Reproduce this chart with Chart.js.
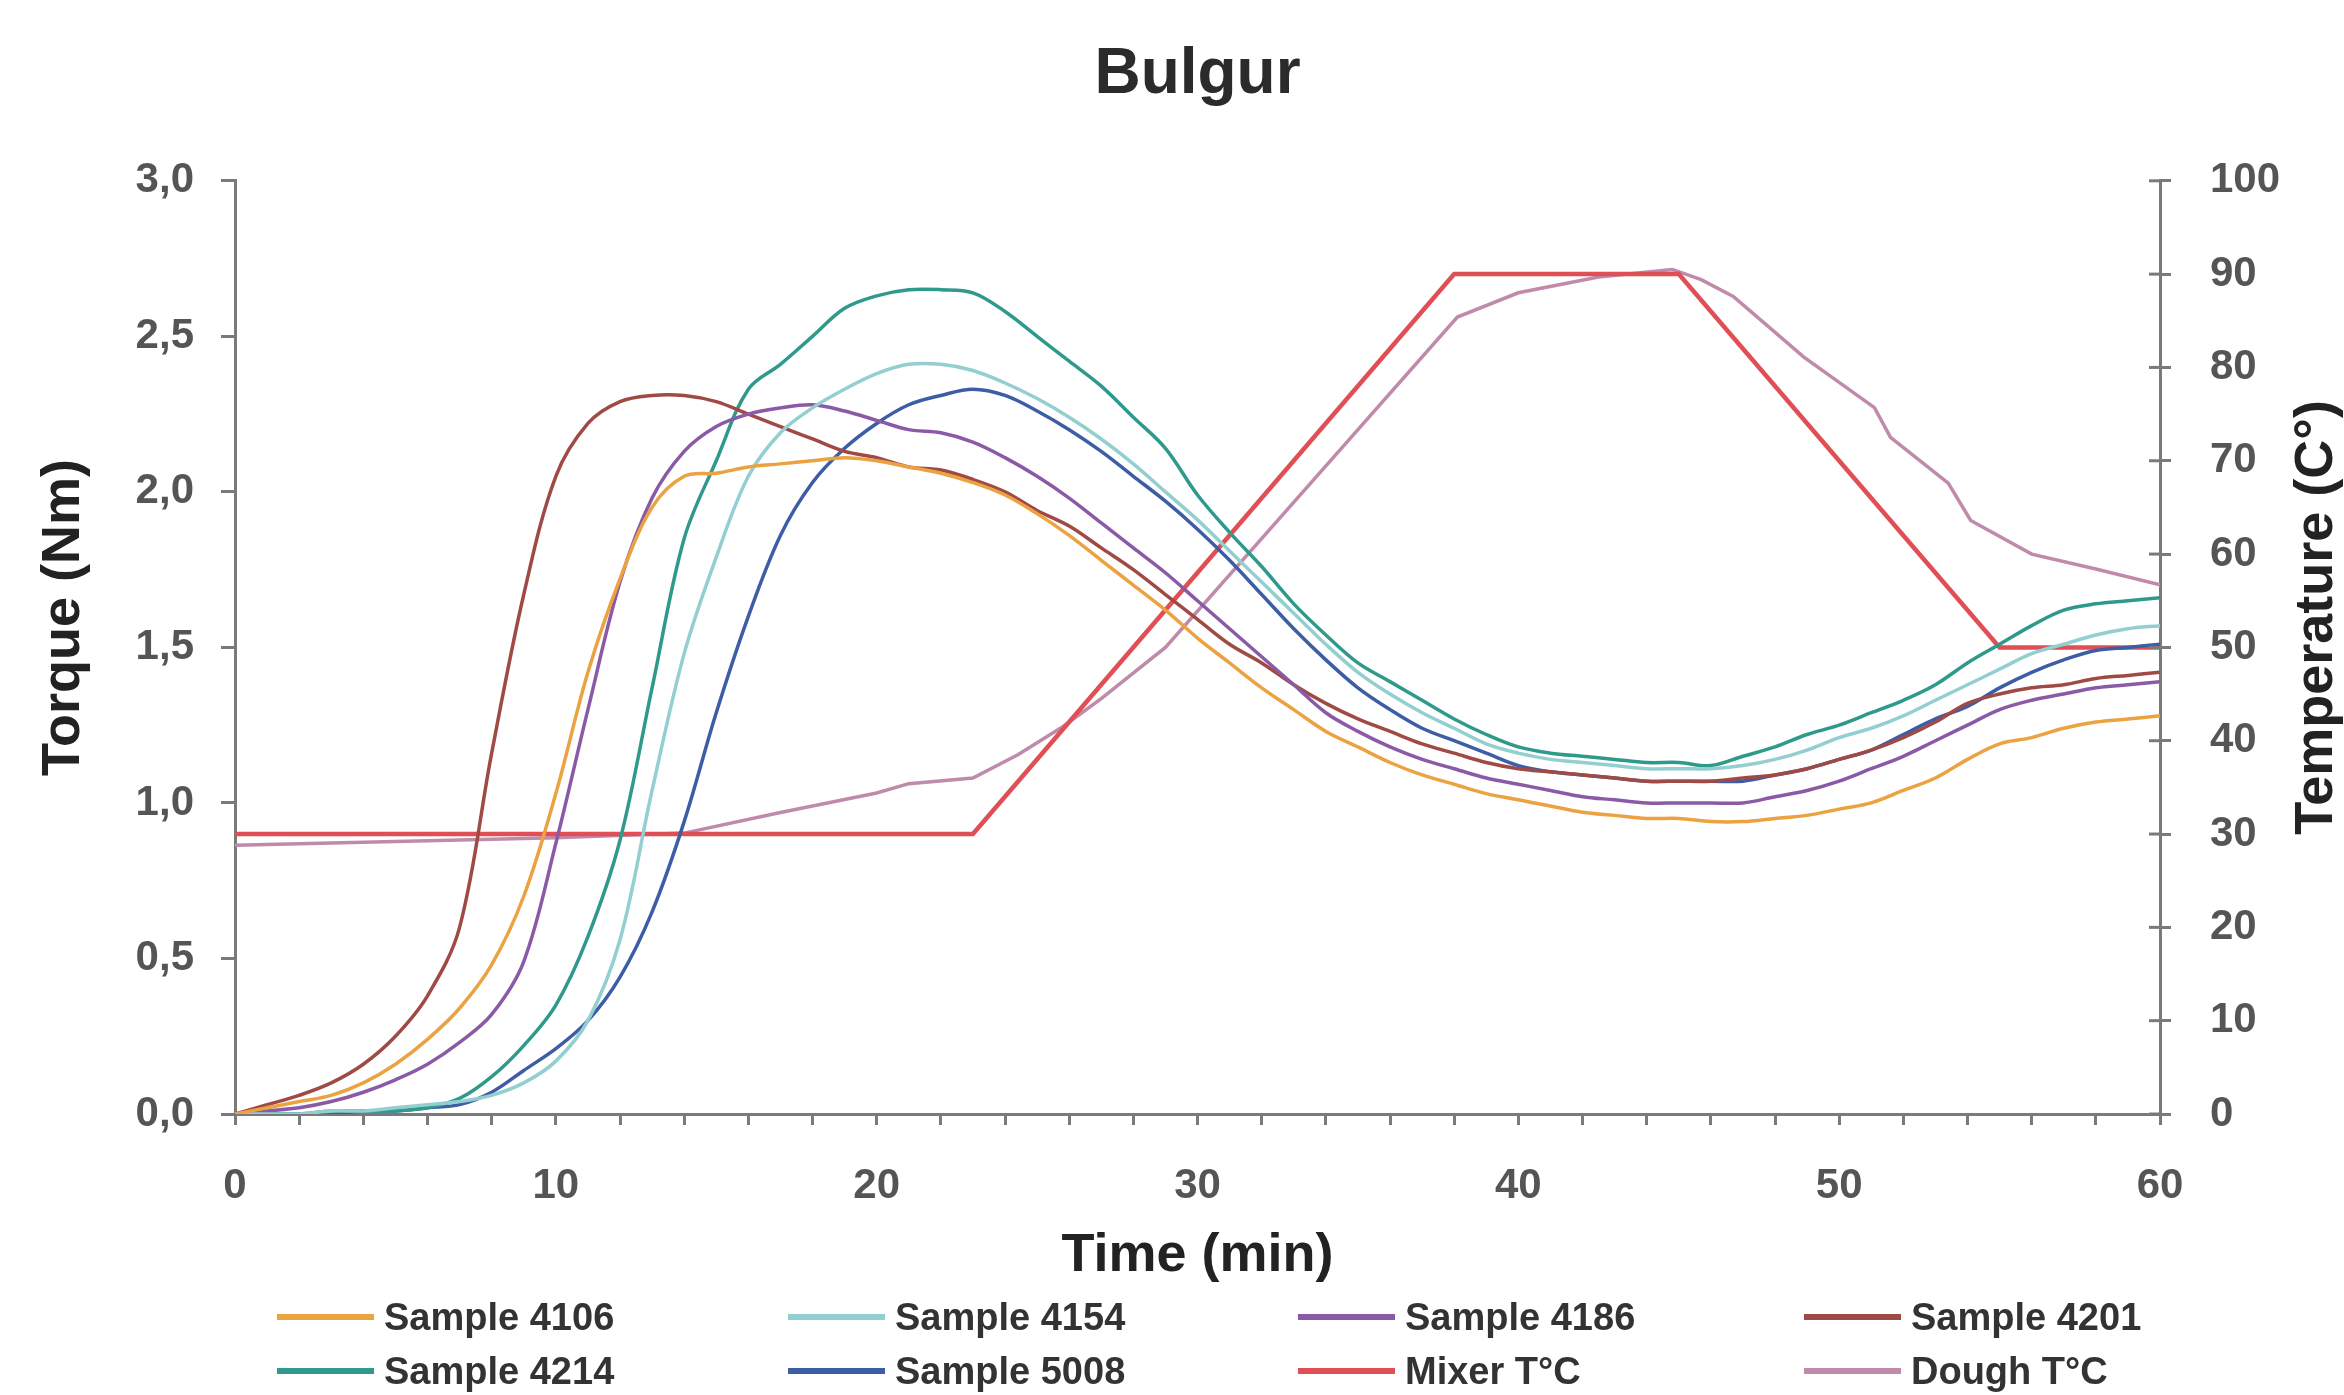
<!DOCTYPE html>
<html>
<head>
<meta charset="utf-8">
<title>Bulgur</title>
<script src="https://cdn.jsdelivr.net/npm/chart.js@4.4.1/dist/chart.umd.min.js"></script>
<style>
  body { margin: 0; background: #fff; }
  #wrap { position: relative; width: 2344px; height: 1395px; }
  #legend {
    position: absolute; left: 277px; top: 1290px;
    display: grid; grid-template-columns: 511px 510px 506px 440px; grid-auto-rows: 54px;
    font: bold 38px "Liberation Sans", Arial, sans-serif; color: #333;
  }
  .item { display: flex; align-items: center; }
  .swatch { display: inline-block; width: 97px; height: 6px; margin-right: 10px; }
</style>
</head>
<body>
<div id="wrap">
  <canvas id="bulgurChart" width="2344" height="1395"></canvas>
  <div id="legend"></div>
</div>
<script>
// time axis (min) for the torque curves
var minutes = [0,1,2,3,4,5,6,7,8,9,10,11,12,13,14,15,16,17,18,19,20,
  21,22,23,24,25,26,27,28,29,30,31,32,33,34,35,36,37,38,39,40,
  41,42,43,44,45,46,47,48,49,50,51,52,53,54,55,56,57,58,59,60];

// torque (Nm)
var s4106 = [0.00,0.02,0.04,0.06,0.10,0.16,0.24,0.34,0.48,0.70,1.03,
  1.42,1.72,1.95,2.05,2.06,2.08,2.09,2.10,2.11,2.10,
  2.08,2.06,2.03,1.99,1.93,1.86,1.78,1.70,1.62,1.53,
  1.45,1.37,1.30,1.23,1.18,1.13,1.09,1.06,1.03,1.01,
  0.99,0.97,0.96,0.95,0.95,0.94,0.94,0.95,0.96,0.98,
  1.00,1.04,1.08,1.14,1.19,1.21,1.24,1.26,1.27,1.28];
var s4154 = [0.00,0.00,0.00,0.01,0.01,0.02,0.03,0.04,0.06,0.10,0.17,
  0.30,0.56,1.04,1.48,1.79,2.05,2.19,2.27,2.33,2.38,
  2.41,2.41,2.39,2.35,2.30,2.24,2.17,2.09,2.00,1.91,
  1.81,1.71,1.61,1.51,1.42,1.35,1.29,1.24,1.19,1.16,
  1.14,1.13,1.12,1.11,1.11,1.11,1.12,1.14,1.17,1.21,
  1.24,1.28,1.33,1.38,1.43,1.48,1.51,1.54,1.56,1.57];
var s4186 = [0.00,0.01,0.02,0.04,0.07,0.11,0.16,0.23,0.32,0.49,0.87,
  1.30,1.71,1.98,2.13,2.21,2.25,2.27,2.28,2.26,2.23,
  2.20,2.19,2.16,2.11,2.05,1.98,1.90,1.82,1.74,1.65,
  1.56,1.47,1.38,1.29,1.23,1.18,1.14,1.11,1.08,1.06,
  1.04,1.02,1.01,1.00,1.00,1.00,1.00,1.02,1.04,1.07,
  1.11,1.15,1.20,1.25,1.30,1.33,1.35,1.37,1.38,1.39];
var s4201 = [0.00,0.03,0.06,0.10,0.16,0.25,0.38,0.60,1.16,1.67,2.05,
  2.22,2.29,2.31,2.31,2.29,2.25,2.21,2.17,2.13,2.11,
  2.08,2.07,2.04,2.00,1.94,1.89,1.82,1.75,1.67,1.59,
  1.51,1.45,1.38,1.32,1.27,1.23,1.19,1.16,1.13,1.11,
  1.10,1.09,1.08,1.07,1.07,1.07,1.08,1.09,1.11,1.14,
  1.17,1.21,1.26,1.32,1.35,1.37,1.38,1.40,1.41,1.42];
var s4214 = [0.00,0.00,0.00,0.01,0.01,0.01,0.02,0.05,0.12,0.22,0.35,
  0.57,0.88,1.37,1.85,2.10,2.33,2.41,2.50,2.59,2.63,
  2.65,2.65,2.64,2.58,2.50,2.42,2.34,2.24,2.14,1.99,
  1.87,1.76,1.64,1.54,1.45,1.39,1.33,1.27,1.22,1.18,
  1.16,1.15,1.14,1.13,1.13,1.12,1.15,1.18,1.22,1.25,
  1.29,1.33,1.38,1.45,1.51,1.57,1.62,1.64,1.65,1.66];
var s5008 = [0.00,0.00,0.00,0.00,0.01,0.01,0.02,0.03,0.07,0.14,0.21,
  0.30,0.44,0.65,0.94,1.29,1.60,1.86,2.03,2.14,2.22,
  2.28,2.31,2.33,2.31,2.26,2.20,2.13,2.05,1.97,1.88,
  1.78,1.67,1.56,1.46,1.37,1.30,1.24,1.20,1.16,1.12,
  1.10,1.09,1.08,1.07,1.07,1.07,1.07,1.09,1.11,1.14,
  1.17,1.22,1.27,1.31,1.37,1.42,1.46,1.49,1.50,1.51];

// temperatures (°C)
var mixerTime = [0, 23, 38, 45, 55, 60];
var mixerTemp = [30, 30, 90, 90, 50, 50];
var doughTime = [0, 5, 10, 14, 17, 20, 21, 23, 24.4, 25.8, 27, 29, 33.5, 38.1, 40, 42.5, 44.8, 45.7, 46.7, 48.9, 51.1, 51.6, 53.4, 54.1, 56, 58, 60];
var doughTemp = [28.8, 29.2, 29.6, 30.1, 32.3, 34.4, 35.4, 36, 38.5, 41.5, 44.5, 50, 67.5, 85.4, 88, 89.7, 90.5, 89.4, 87.6, 81.1, 75.7, 72.5, 67.6, 63.6, 60, 58.4, 56.7];

var torqueTicks = [0, 0.5, 1.0, 1.5, 2.0, 2.5, 3.0];

var axisColor = '#7a7a7a';
var tickFont = { family: '"Liberation Sans", Arial, sans-serif', size: 42, weight: 'bold' };

function pairs(xs, ys) {
  return xs.map(function(x, i) { return { x: x, y: ys[i] }; });
}

function torqueLine(label, color, values) {
  return {
    label: label, data: pairs(minutes, values), yAxisID: 'y',
    borderColor: color, backgroundColor: color, borderWidth: 3.5,
    pointRadius: 0, tension: 0.35
  };
}

function tempLine(label, color, xs, ys, width) {
  return {
    label: label, data: pairs(xs, ys), yAxisID: 'y2',
    borderColor: color, backgroundColor: color, borderWidth: width,
    pointRadius: 0, tension: 0
  };
}

// vertical axis titles (both read bottom-to-top) and the inner half of the right ticks
var axisExtras = {
  id: 'axisExtras',
  afterDraw: function(chart) {
    var ctx = chart.ctx, area = chart.chartArea, right = chart.scales.y2;
    ctx.save();
    ctx.strokeStyle = axisColor;
    ctx.lineWidth = 3;
    right.ticks.forEach(function(t) {
      var py = right.getPixelForValue(t.value);
      ctx.beginPath();
      ctx.moveTo(area.right - 11, py);
      ctx.lineTo(area.right, py);
      ctx.stroke();
    });
    ctx.fillStyle = '#222';
    ctx.font = 'bold 54px "Liberation Sans", Arial, sans-serif';
    ctx.textAlign = 'center';
    ctx.textBaseline = 'middle';
    var midY = (area.top + area.bottom) / 2 - 30;
    [[64, 'Torque (Nm)'], [2317, 'Temperature (C\u00b0)']].forEach(function(t) {
      ctx.save();
      ctx.translate(t[0], midY);
      ctx.rotate(-Math.PI / 2);
      ctx.fillText(t[1], 0, 0);
      ctx.restore();
    });
    ctx.restore();
  }
};

var chart = new Chart(document.getElementById('bulgurChart'), {
  type: 'line',
  data: {
    datasets: [
      torqueLine('Sample 4106', '#eba342', s4106),
      torqueLine('Sample 4154', '#93cfd0', s4154),
      torqueLine('Sample 4186', '#8a5aa6', s4186),
      torqueLine('Sample 4201', '#a04a46', s4201),
      torqueLine('Sample 4214', '#2f9a8c', s4214),
      torqueLine('Sample 5008', '#3d5da6', s5008),
      tempLine('Mixer T\u00b0C', '#df4f55', mixerTime, mixerTemp, 4.5),
      tempLine('Dough T\u00b0C', '#c08aab', doughTime, doughTemp, 3.5)
    ]
  },
  options: {
    responsive: false,
    animation: false,
    layout: { padding: { left: 0, right: 0, top: 0, bottom: 101 } },
    plugins: {
      legend: { display: false },
      tooltip: { enabled: false },
      title: {
        display: true, text: 'Bulgur', fullSize: false, color: '#2b2b2b',
        font: { family: '"Liberation Sans", Arial, sans-serif', size: 64, weight: 'bold', lineHeight: 1.2 },
        padding: { top: 37, bottom: 67 }
      }
    },
    scales: {
      x: {
        type: 'linear', min: 0, max: 60,
        afterFit: function(s) { s.height = 180; },
        ticks: {
          stepSize: 2, padding: 36, color: '#555', font: tickFont, maxRotation: 0,
          callback: function(v) { return v % 10 === 0 ? String(v) : ''; }
        },
        grid: { drawOnChartArea: false, tickLength: 11, color: axisColor, lineWidth: 3 },
        border: { color: axisColor, width: 3 },
        title: {
          display: true, text: 'Time (min)', color: '#222',
          font: { family: '"Liberation Sans", Arial, sans-serif', size: 54, weight: 'bold', lineHeight: 1 },
          padding: { top: 0, bottom: 11 }
        }
      },
      y: {
        position: 'left', min: 0, max: 3,
        afterFit: function(s) { s.width = 235; },
        afterBuildTicks: function(s) { s.ticks = torqueTicks.map(function(v) { return { value: v }; }); },
        ticks: {
          padding: 27, color: '#555', font: tickFont,
          callback: function(v) { return v.toFixed(1).replace('.', ','); }
        },
        grid: { drawOnChartArea: false, tickLength: 14, color: axisColor, lineWidth: 3 },
        border: { color: axisColor, width: 3 }
      },
      y2: {
        position: 'right', min: 0, max: 100,
        afterFit: function(s) { s.width = 184; },
        ticks: { stepSize: 10, padding: 39, color: '#555', font: tickFont },
        grid: { drawOnChartArea: false, tickLength: 11, color: axisColor, lineWidth: 3 },
        border: { color: axisColor, width: 3 }
      }
    }
  },
  plugins: [axisExtras]
});

// legend in four columns under the axis title
var legendBox = document.getElementById('legend');
chart.data.datasets.forEach(function(ds) {
  var item = document.createElement('div');
  item.className = 'item';
  var swatch = document.createElement('span');
  swatch.className = 'swatch';
  swatch.style.background = ds.borderColor;
  item.appendChild(swatch);
  item.appendChild(document.createTextNode(ds.label));
  legendBox.appendChild(item);
});
</script>
</body>
</html>
